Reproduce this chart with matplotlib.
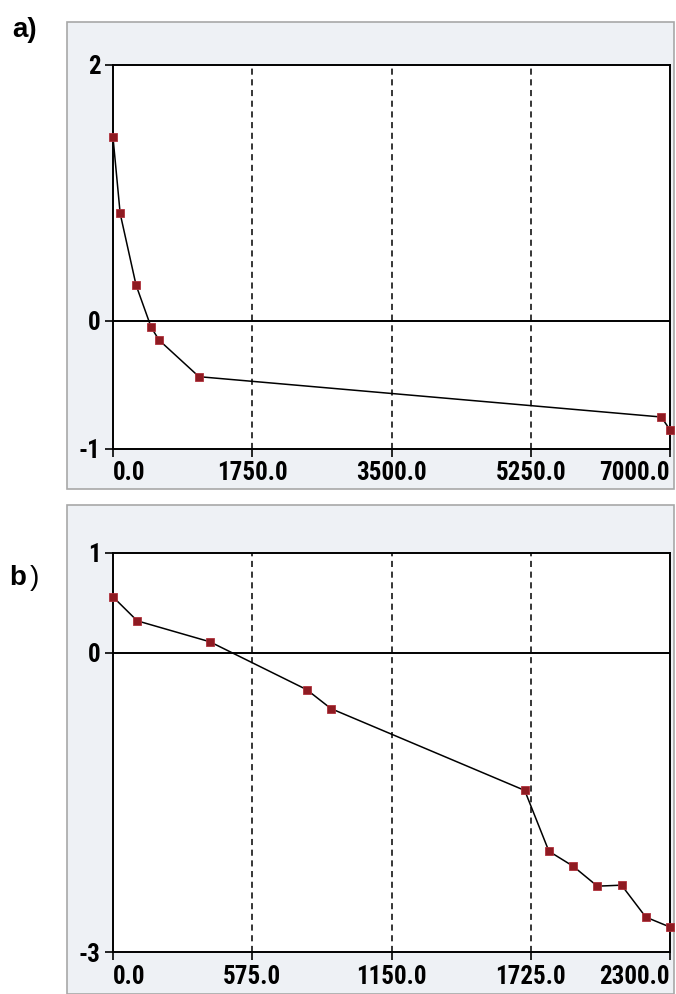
import matplotlib
matplotlib.use("Agg")
import matplotlib.pyplot as plt
from matplotlib import font_manager as fm
from matplotlib.patches import Rectangle

# values
a_x = [0, 90, 290, 480, 580, 1080, 6890, 7000]
a_y = [1.435, 0.84, 0.28, -0.05, -0.15, -0.435, -0.75, -0.85]
a_xticks = [0, 1750, 3500, 5250, 7000]
a_yticks = [-1, 0, 2]

b_x = [0, 100, 400, 800, 900, 1700, 1800, 1900, 2000, 2100, 2200, 2300]
b_y = [0.56, 0.32, 0.11, -0.37, -0.56, -1.38, -1.99, -2.14, -2.34, -2.33, -2.65, -2.75]
b_xticks = [0, 575, 1150, 1725, 2300]
b_yticks = [-3, 0, 1]

# narrow bold font for the tick labels if there is one
tick_fp = fm.FontProperties(family='DejaVu Sans', weight='bold', size=13)
for f in fm.fontManager.ttflist:
    if f.name in ('Liberation Sans Narrow', 'Roboto Condensed') and f.weight in (700, 'bold'):
        tick_fp = fm.FontProperties(fname=f.fname, size=18)
        break
    if f.name == 'DejaVu Sans' and f.stretch == 'condensed' and f.weight in (700, 'bold'):
        tick_fp = fm.FontProperties(fname=f.fname, size=15)

W, H = 676, 994
fig = plt.figure(figsize=(W / 100, H / 100), dpi=100)


def panel(top, bottom, ax_top, ax_bottom, xs, ys, xticks, yticks, ylim):
    # grey frame behind each plot
    fig.patches.append(Rectangle((67 / W, 1 - bottom / H), (674 - 67) / W, (bottom - top) / H,
                                 transform=fig.transFigure, facecolor='#EEF1F5',
                                 edgecolor='#A8A8A8', linewidth=1.2, zorder=-5))
    ax = fig.add_axes([113 / W, 1 - ax_bottom / H, (670 - 113) / W, (ax_bottom - ax_top) / H])
    ax.set_zorder(2)
    ax.set_facecolor('white')
    ax.set_xlim(xticks[0], xticks[-1])
    ax.set_ylim(*ylim)
    for xv in xticks[1:-1]:
        ax.axvline(xv, color='black', linestyle=(0, (4, 3)), linewidth=1.1, zorder=1)
    ax.axhline(0, color='black', linewidth=1.4, zorder=1)
    ax.plot(xs, ys, color='black', linewidth=1.1, zorder=2)
    ax.plot(xs, ys, linestyle='none', marker='s', markersize=5.5,
            markerfacecolor='#8E1B22', markeredgecolor='#B0303A', markeredgewidth=0.6,
            clip_on=False, zorder=3)
    for s in ax.spines.values():
        s.set_linewidth(1.4)
    ax.set_xticks(xticks)
    ax.set_xticklabels(['%.1f' % v for v in xticks])
    ax.set_yticks(yticks)
    ax.set_yticklabels(['%d' % v for v in yticks])
    ax.tick_params(direction='out', length=6, width=1.2, pad=3)
    for lab in ax.get_xticklabels() + ax.get_yticklabels():
        lab.set_fontproperties(tick_fp)
    labs = ax.get_xticklabels()
    labs[0].set_ha('left')
    labs[-1].set_ha('right')
    return ax


panel(22, 489, 65, 449, a_x, a_y, a_xticks, a_yticks, (-1, 2))
panel(505, 994, 553, 952, b_x, b_y, b_xticks, b_yticks, (-3, 1))

fig.text(12 / W, 1 - 30 / H, 'a)', family='Liberation Sans', fontsize=20,
         fontweight='bold', va='center', ha='left')
fig.text(9 / W, 1 - 578 / H, 'b', family='Liberation Sans', fontsize=20,
         fontweight='bold', va='center', ha='left')
fig.text(30 / W, 1 - 578 / H, ')', family='Liberation Sans', fontsize=20,
         va='center', ha='left')

fig.savefig('out.png', dpi=100)
